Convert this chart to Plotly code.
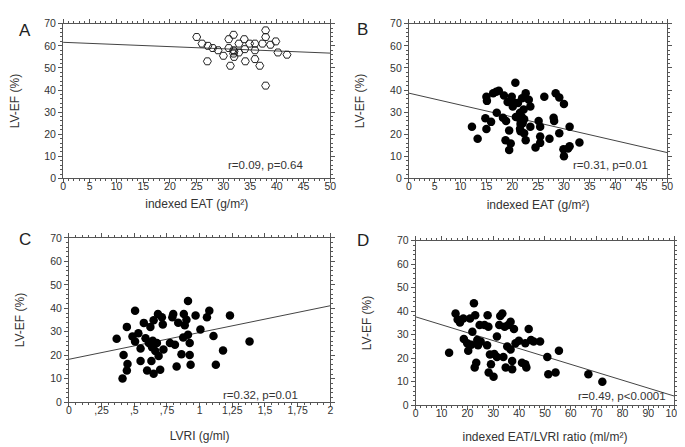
import plotly.graph_objects as go

# ---------------- data ----------------
a_x = [25.0, 26.0, 27.0, 27.1, 28.0, 29.0, 30.0, 31.0, 31.0, 31.3, 31.9, 31.9, 31.9, 32.0, 32.0,
       32.9, 32.9, 33.9, 34.0, 34.1, 34.9, 35.9, 35.9, 35.9, 36.8, 37.3, 37.9, 37.9, 37.9, 38.8,
       39.8, 40.2, 41.9]
a_y = [64, 61, 53, 60, 59, 58, 55.5, 63, 59, 51, 65, 58, 56.5, 57.5, 55,
       57, 61, 63, 58.5, 53, 61, 61, 58, 54, 51, 61, 67, 64, 42, 60.5,
       62, 57, 56]

b_x = [12.2, 13.3, 15.0, 14.8, 15.0, 15.1, 15.9, 16.3, 16.9, 17.4, 17.0, 18.2, 18.4, 18.8, 18.7,
       19.1, 19.4, 19.4, 19.7, 19.9, 20.1, 19.7, 20.6, 20.6, 20.7, 21.1, 21.5, 21.6, 21.6, 21.6,
       21.9, 22.2, 22.3, 22.6, 22.6, 23.2, 23.5, 23.5, 24.5, 25.1, 25.4, 25.4, 25.4, 26.2, 27.2,
       28.0, 28.1, 28.4, 29.1, 29.1, 30.0, 29.9, 30.0, 30.8, 31.1, 31.1, 33.0, 21.8, 22.0, 21.5,
       22.3]
b_y = [23.4, 18, 22.4, 27.2, 37, 35.1, 25.6, 38.5, 39.2, 39.7, 29.7, 27.5, 37.5, 26, 17.3,
       34.6, 21.7, 12.9, 15.8, 37, 32.6, 34.8, 43.3, 34.1, 27.8, 34.1, 29.7, 24.6, 21.4, 26.4,
       36.3, 31.2, 26.8, 38.5, 17.3, 35.6, 32.6, 23.4, 14, 26, 23.4, 19, 16.1, 37, 18,
       27.5, 26, 38.5, 36.6, 20.5, 33.7, 13.2, 10, 13.6, 14.6, 23.4, 16.3, 28, 25, 22.5,
       20.5]

c_x = [0.365, 0.418, 0.41, 0.443, 0.448, 0.443, 0.506, 0.486, 0.506, 0.531, 0.548, 0.548, 0.573,
       0.586, 0.598, 0.611, 0.623, 0.631, 0.636, 0.641, 0.648, 0.648, 0.661, 0.681, 0.686, 0.673,
       0.698, 0.711, 0.718, 0.723, 0.773, 0.811, 0.798, 0.791, 0.824, 0.836, 0.861, 0.874, 0.879,
       0.886, 0.899, 0.911, 0.911, 0.924, 0.924, 0.931, 0.969, 1.006, 1.056, 1.074, 1.106, 1.124,
       1.179, 1.232, 1.382]
c_y = [27, 20.1, 10.1, 32.1, 16.3, 13.5, 39, 28, 25.9, 29.4, 22.9, 17.6, 33.8,
       27.3, 13.5, 25.2, 32.1, 17.6, 23.4, 26.2, 12.1, 34.9, 21.8, 37.6, 19.7, 25.2,
       13.8, 36.2, 33.1, 22.5, 25.2, 24.5, 37.6, 36.2, 15.2, 33.9, 20.4, 27.6, 37.6,
       32.8, 35.1, 43.1, 28.7, 25.2, 20.1, 16, 36.9, 31, 36.2, 39, 28.2, 16,
       22, 36.9, 25.9]

d_x = [12.9, 15.4, 16.2, 17.1, 18.4, 18.6, 19.9, 20.3, 21.0, 21.5, 21.9, 22.5, 22.8, 23.0, 23.4,
       23.8, 24.1, 24.7, 25.1, 26.6, 27.6, 27.8, 28.1, 28.2, 28.7, 29.1, 30.1, 30.4, 31.4, 31.4,
       32.3, 32.7, 33.5, 33.9, 34.4, 34.8, 35.4, 35.8, 36.7, 36.7, 37.3, 37.3, 38.0, 38.6, 39.9,
       41.1, 42.4, 42.8, 42.4, 43.7, 44.6, 45.6, 48.1, 50.9, 51.3, 54.1, 55.4, 66.8, 72.2]
d_y = [22.3, 39, 36.5, 35.2, 36.9, 28.2, 26.4, 23.2, 36.9, 25.7, 31.3, 43.4, 16, 38.3, 18.1,
       27.8, 25.5, 34.1, 27.1, 34.1, 25.5, 38.3, 33.4, 13.9, 21.6, 17.4, 12.1, 21.8, 29.2, 20.5,
       34.1, 38, 39, 20.5, 33.4, 16, 25, 34.1, 35.5, 23.7, 15.3, 18.8, 32.4, 26.4, 27.4,
       18.1, 17.4, 16, 26.4, 32.4, 27.8, 27.1, 27.1, 20.5, 13.2, 13.9, 23.2, 13.2, 10]

# regression line end points (x at axis ends, fitted y)
a_fit_x = [0, 50];  a_fit_y = [61.6, 56.7]
b_fit_x = [0, 50];  b_fit_y = [38.6, 11.7]
c_fit_x = [0, 2];   c_fit_y = [18.3, 41.1]
d_fit_x = [0, 100]; d_fit_y = [37.6, 3.9]

stats = ["r=0.09, p=0.64", "r=0.31, p=0.01", "r=0.32, p=0.01", "r=0.49, p<0.0001"]
xtitles = ["indexed EAT (g/m²)", "indexed EAT (g/m²)", "LVRI (g/ml)", "indexed EAT/LVRI ratio (ml/m²)"]
ytitle = "LV-EF (%)"
letters = ["A", "B", "C", "D"]
y_ticks = [0, 10, 20, 30, 40, 50, 60, 70]
ab_ticks = [0, 5, 10, 15, 20, 25, 30, 35, 40, 45, 50]
c_ticks = [0, 0.25, 0.5, 0.75, 1, 1.25, 1.5, 1.75, 2]
c_ticklabels = ["0", ",25", ",5", ",75", "1", "1,25", "1,5", "1,75", "2"]
d_ticks = [0, 10, 20, 30, 40, 50, 60, 70, 80, 90, 100]

# ---------------- figure ----------------
W, H = 685, 447
FONT = "Liberation Sans, Arial, sans-serif"
fig = go.Figure()

# panel boxes in pixels: left, right, top, bottom
boxes = [(53, 325, 10, 169), (405, 668, 10, 169), (59, 325, 230, 399), (412, 675, 233, 402)]
xtitle_standoff = [8, 9, 16, 14]

def dom(b):
    l, r, t, bt = b
    return [l / W, r / W], [1 - bt / H, 1 - t / H]

panels = [
    (a_x, a_y, a_fit_x, a_fit_y, [0, 50], ab_ticks, [str(t) for t in ab_ticks]),
    (b_x, b_y, b_fit_x, b_fit_y, [0, 50], ab_ticks, [str(t) for t in ab_ticks]),
    (c_x, c_y, c_fit_x, c_fit_y, [0, 2], c_ticks, c_ticklabels),
    (d_x, d_y, d_fit_x, d_fit_y, [0, 100], d_ticks, [str(t) for t in d_ticks]),
]
minor_dx = [1, 1, 0.05, 2]

for i, (px, py, fx, fy, xr, xt, xtl) in enumerate(panels):
    n = "" if i == 0 else str(i + 1)
    xa, ya = "x" + n, "y" + n
    if i == 0:
        marker = dict(symbol="hexagon2-open", size=8, color="#222", line=dict(width=1, color="#222"))
    else:
        marker = dict(symbol="circle", size=8.5, color="black", line=dict(width=0))
    fig.add_trace(go.Scatter(x=fx, y=fy, mode="lines", line=dict(color="#444", width=1),
                             xaxis=xa, yaxis=ya, showlegend=False, hoverinfo="skip"))
    fig.add_trace(go.Scatter(x=px, y=py, mode="markers", marker=marker,
                             xaxis=xa, yaxis=ya, showlegend=False))
    xd, yd = dom(boxes[i])
    axcommon = dict(showgrid=False, zeroline=False, showline=True, linecolor="#555", linewidth=1,
                    mirror="allticks", ticks="outside", ticklen=4, tickcolor="#555",
                    tickfont=dict(family=FONT, size=10.5, color="#333"))
    fig.layout["xaxis" + n] = dict(domain=xd, range=xr, tickmode="array", tickvals=xt, ticktext=xtl,
                                   anchor=ya, fixedrange=True, ticklabelstandoff=-6,
                                   minor=dict(dtick=minor_dx[i], ticks="outside", ticklen=2, tickcolor="#555"),
                                   title=dict(text=xtitles[i], font=dict(family=FONT, size=12, color="#333"),
                                              standoff=xtitle_standoff[i]),
                                   **axcommon)
    fig.layout["yaxis" + n] = dict(domain=yd, range=[0, 70], tickmode="array", tickvals=y_ticks,
                                   anchor=xa, fixedrange=True,
                                   minor=dict(dtick=2, ticks="outside", ticklen=2, tickcolor="#555"),
                                   title=dict(text=ytitle, font=dict(family=FONT, size=12, color="#333"),
                                              standoff=22),
                                   **axcommon)

# stats annotations
stat_pos = [(259, 155), (610, 155), (254, 392), (622, 393)]
for s, (sx, sy) in zip(stats, stat_pos):
    fig.add_annotation(text=s, x=sx / W, y=1 - sy / H, xref="paper", yref="paper",
                       showarrow=False, xanchor="center", yanchor="middle",
                       font=dict(family=FONT, size=11.5, color="#333"))

letter_pos = [(14, 17), (358, 16), (14, 232), (358, 233)]
for s, (lx, ly) in zip(letters, letter_pos):
    fig.add_annotation(text=s, x=lx / W, y=1 - ly / H, xref="paper", yref="paper",
                       showarrow=False, xanchor="center", yanchor="middle",
                       font=dict(family=FONT, size=17, color="#222"))

fig.update_layout(width=W, height=H, margin=dict(l=0, r=0, t=0, b=0),
                  paper_bgcolor="white", plot_bgcolor="white", showlegend=False)

fig.write_html("out.html")
